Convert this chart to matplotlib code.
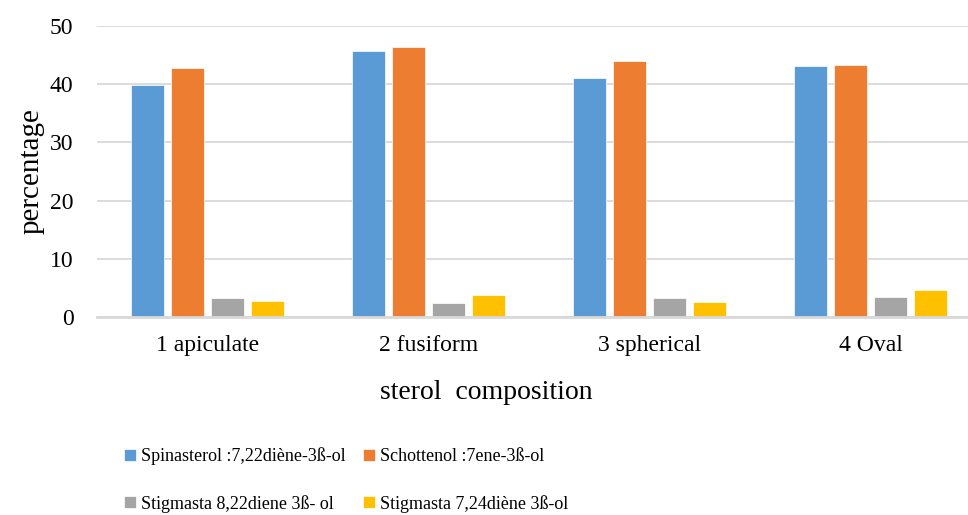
import matplotlib
matplotlib.use("Agg")
import matplotlib.pyplot as plt
import numpy as np

categories = ["1 apiculate", "2 fusiform", "3 spherical", "4 Oval"]
series_names = ["Spinasterol :7,22diène-3ß-ol", "Schottenol :7ene-3ß-ol",
                "Stigmasta 8,22diene 3ß- ol", "Stigmasta 7,24diène 3ß-ol"]
spinasterol = [39.9, 45.7, 41.0, 43.1]
schottenol = [42.8, 46.4, 44.0, 43.3]
stigmasta_822 = [3.2, 2.4, 3.3, 3.4]
stigmasta_724 = [2.8, 3.8, 2.5, 4.6]
colors = ["#5B9BD5", "#ED7D31", "#A5A5A5", "#FFC000"]

plt.rcParams['font.family'] = ['Liberation Serif', 'DejaVu Serif']

fig = plt.figure(figsize=(9.68, 5.15), dpi=100)
ax = fig.add_axes([97/968, 1-317/515, 884/968, (317-26)/515])

x = np.arange(len(categories))
pitch = 0.181
width = 0.145
allseries = [spinasterol, schottenol, stigmasta_822, stigmasta_724]
handles = []
for i, vals in enumerate(allseries):
    b = ax.bar(x + (i - 1.5) * pitch, vals, width, color=colors[i],
               edgecolor="white", linewidth=0.5, label=series_names[i], zorder=3)
    handles.append(b)

ax.set_xlim(-0.5, 3.5)
ax.set_ylim(0, 50)
ax.set_yticks([0, 10, 20, 30, 40, 50])
ax.yaxis.grid(True, color="#d9d9d9", linewidth=1.3, zorder=0)
for s in ["top", "right", "left"]:
    ax.spines[s].set_visible(False)
ax.spines["bottom"].set_color("#d9d9d9")
ax.spines["bottom"].set_linewidth(2)
ax.spines["bottom"].set_zorder(4)
ax.set_xticks(x)
ax.set_xticklabels(categories)
ax.tick_params(axis="y", length=0, pad=17, labelsize=17)
ax.tick_params(axis="x", length=0, pad=13, labelsize=17)

ax.set_ylabel("percentage", fontsize=21, labelpad=4)
ax.set_xlabel("sterol  composition", fontsize=20, labelpad=17, x=(486-97)/884)

# legend is filled by column, so reorder to get the row-wise layout
order = [0, 2, 1, 3]
fig.legend(handles=[handles[i] for i in order], labels=[series_names[i] for i in order],
           ncol=2, frameon=False,
           loc="upper left", bbox_to_anchor=(108/968, 1-431/515),
           fontsize=13, handlelength=0.65, handleheight=0.65, handletextpad=0.3,
           columnspacing=0.95, labelspacing=1.65)

fig.savefig("out.png", dpi=100)
